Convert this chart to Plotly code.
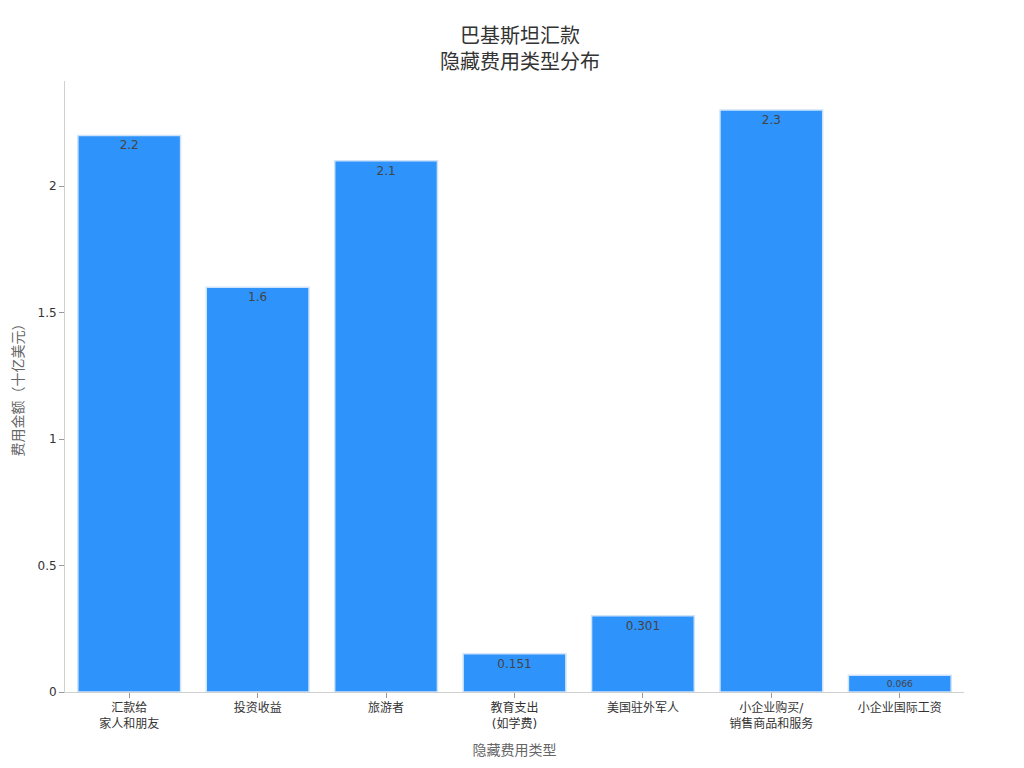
import plotly.graph_objects as go

categories = ["汇款给<br>家人和朋友", "投资收益", "旅游者", "教育支出<br>(如学费)",
              "美国驻外军人", "小企业购买/<br>销售商品和服务", "小企业国际工资"]
values = [2.2, 1.6, 2.1, 0.151, 0.301, 2.3, 0.066]
labels = ["2.2", "1.6", "2.1", "0.151", "0.301", "2.3", "0.066"]

font_family = "DejaVu Sans, Noto Sans CJK SC, sans-serif"

fig = go.Figure()
fig.add_trace(go.Bar(
    x=categories,
    y=values,
    text=labels,
    textposition="inside",
    insidetextanchor="end",
    textangle=0,
    textfont=dict(color="#444444", size=12),
    marker=dict(color="#2E93FA", line=dict(color="#CFE4FB", width=1.5)),
    width=0.8,
))

fig.update_layout(
    template="plotly_white",
    width=1024,
    height=768,
    font=dict(family=font_family, size=12, color="#333333"),
    title=dict(text="巴基斯坦汇款<br>隐藏费用类型分布", x=0.5, xanchor="center",
               y=0.955, font=dict(size=20, color="#333333")),
    margin=dict(l=57, r=68, t=73, b=84),
    showlegend=False,
)
fig.update_xaxes(
    title=dict(text="隐藏费用类型", font=dict(size=14, color="#666666")),
    showgrid=False, showline=True, linecolor="#D0D0D0",
    ticks="outside", ticklen=5, tickcolor="#999999",
)
fig.update_yaxes(
    title=dict(text="费用金额（十亿美元）", font=dict(size=14, color="#666666"),
               standoff=10),
    automargin=False,
    range=[0, 2.415], showgrid=False, zeroline=False,
    showline=True, linecolor="#D0D0D0",
    ticks="outside", ticklen=5, tickcolor="#999999",
    tickvals=[0, 0.5, 1, 1.5, 2], ticktext=["0", "0.5", "1", "1.5", "2"],
)

fig.write_html("out.html")
